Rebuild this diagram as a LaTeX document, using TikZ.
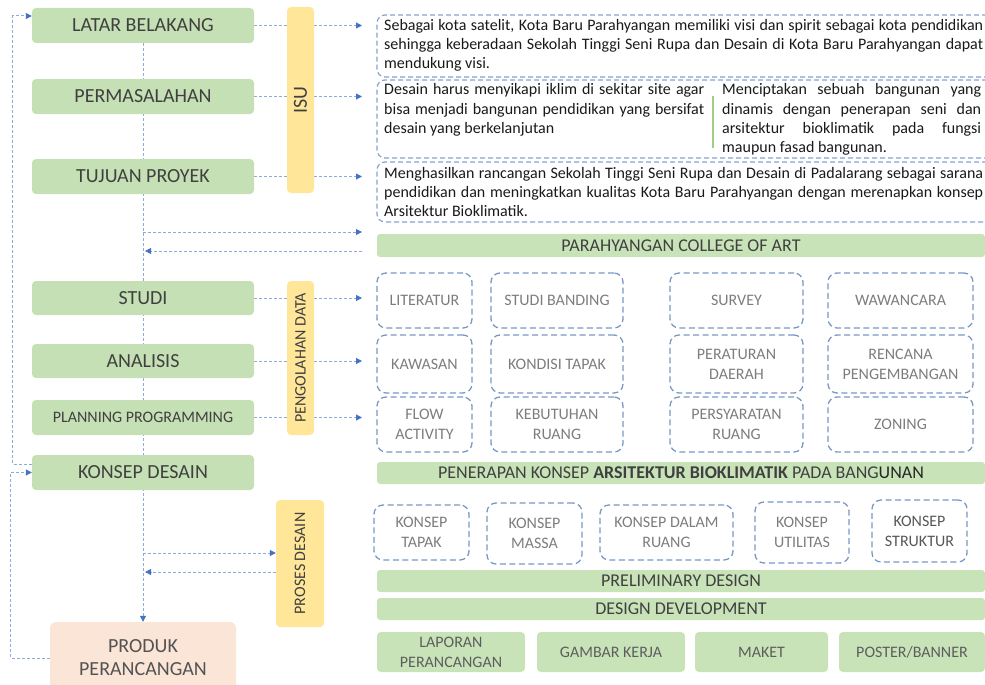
\documentclass[tikz,border=0pt]{standalone}
\usepackage{fontspec}
\setmainfont{Carlito}
\usepackage{graphicx}
\usetikzlibrary{arrows.meta}
\pgfdeclarelayer{bg}
\pgfsetlayers{bg,main}
\definecolor{boxgreen}{RGB}{197,224,180}
\definecolor{bargreen}{RGB}{201,227,185}
\definecolor{boxyellow}{RGB}{255,230,153}
\definecolor{peach}{RGB}{251,229,214}
\definecolor{txtdark}{RGB}{64,64,64}
\definecolor{txtgray}{RGB}{125,125,125}
\definecolor{bodytxt}{RGB}{25,25,25}
\definecolor{dashblue}{RGB}{120,152,196}
\definecolor{tdash}{RGB}{135,162,204}
\definecolor{flowline}{RGB}{143,170,220}
\definecolor{flowtip}{RGB}{68,114,196}
\definecolor{sepgreen}{RGB}{160,205,130}
\begin{document}
\begin{tikzpicture}[x=1pt,y=-1pt,
  gbox/.style={fill=boxgreen, rounded corners=4pt, text=txtdark, inner sep=0pt,
    font=\fontsize{20}{24}\selectfont, minimum width=222pt, minimum height=35pt},
  ybox/.style={fill=boxyellow, rounded corners=4pt, text=txtdark, inner sep=0pt,
    font=\fontsize{16}{19}\selectfont},
  dbox/.style={draw=dashblue, line width=1.3pt, dash pattern=on 6pt off 3.5pt,
    rounded corners=9pt, text=txtgray, inner sep=0pt, align=center,
    font=\fontsize{16}{20}\selectfont},
  bar/.style={fill=bargreen, rounded corners=3pt, text=txtdark, inner sep=0pt,
    font=\fontsize{18}{21}\selectfont},
  pbox/.style={fill=bargreen, rounded corners=4pt, text=txtdark!85, inner sep=0pt,
    align=center, font=\fontsize{16}{20}\selectfont, minimum height=40pt},
  tbox/.style={draw=tdash, line width=1.2pt, dash pattern=on 5pt off 3pt,
    rounded corners=8pt, inner sep=0pt},
  ttext/.style={anchor=base west, inner sep=0pt, text=bodytxt,
    font=\fontsize{16}{19}\selectfont},
  flow/.style={draw=flowline, line width=1pt, dash pattern=on 3pt off 2pt},
  tip/.style={-{Triangle[length=6pt,width=6pt,color=flowtip,fill=flowtip]}}
]
\useasboundingbox (0,0) rectangle (985,685);

% left column
\node[gbox] (latar) at (143,25.5) {LATAR BELAKANG};
\node[gbox] (perm) at (143,96.5) {PERMASALAHAN};
\node[gbox] (tujuan) at (143,176.5) {TUJUAN PROYEK};
\node[gbox, minimum height=34pt] (studi) at (143,298) {STUDI};
\node[gbox, minimum height=34pt] (analisis) at (143,361) {ANALISIS};
\node[gbox, font=\fontsize{16}{19}\selectfont] (planning) at (143,417.5) {PLANNING PROGRAMMING};
\node[gbox] (konsep) at (143,472.5) {KONSEP DESAIN};
\node[fill=peach, rounded corners=6pt, text=txtdark!90, inner sep=0pt, align=center,
  font=\fontsize{20}{23}\selectfont, minimum width=186pt, minimum height=72pt]
  (produk) at (143,658) {PRODUK\\PERANCANGAN};

% yellow labels
\node[ybox, font=\fontsize{20}{24}\selectfont, minimum width=27pt, minimum height=186pt] (isu) at (300.5,100) {\rotatebox{90}{ISU}};
\node[ybox, minimum width=27pt, minimum height=154pt] (olah) at (300.5,358) {\rotatebox{90}{PENGOLAHAN DATA}};
\node[ybox, minimum width=48pt, minimum height=127pt] (proses) at (300,563.5) {\rotatebox{90}{PROSES DESAIN}};

% issue text boxes
\node[tbox, minimum width=618pt, minimum height=62pt] (t1) at (686,46) {};
\node[tbox, minimum width=618pt, minimum height=78pt] (t2) at (686,119) {};
\node[tbox, minimum width=618pt, minimum height=60pt] (t3) at (686,192) {};

\node[ttext] (t1a) at (384,31) {\makebox[599pt][s]{Sebagai kota satelit, Kota Baru Parahyangan memiliki visi dan spirit sebagai kota pendidikan}};
\node[ttext] (t1b) at (384,49.5) {\makebox[599pt][s]{sehingga keberadaan Sekolah Tinggi Seni Rupa dan Desain di Kota Baru Parahyangan dapat}};
\node[ttext] (t1c) at (384,68) {mendukung visi.};

\node[ttext] (t2a) at (384,95) {\makebox[320pt][s]{Desain harus menyikapi iklim di sekitar site agar}};
\node[ttext] (t2b) at (384,114) {\makebox[320pt][s]{bisa menjadi bangunan pendidikan yang bersifat}};
\node[ttext] (t2c) at (384,133) {desain yang berkelanjutan};
\draw[sepgreen, line width=1.2pt] (713,96) -- (713,148);
\node[ttext] (t2d) at (722,95) {\makebox[259pt][s]{Menciptakan sebuah bangunan yang}};
\node[ttext] (t2e) at (722,114) {\makebox[259pt][s]{dinamis dengan penerapan seni dan}};
\node[ttext] (t2f) at (722,133) {\makebox[259pt][s]{arsitektur bioklimatik pada fungsi}};
\node[ttext] (t2g) at (722,152) {maupun fasad bangunan.};

\node[ttext] (t3a) at (384,178) {\makebox[599pt][s]{Menghasilkan rancangan Sekolah Tinggi Seni Rupa dan Desain di Padalarang sebagai sarana}};
\node[ttext] (t3b) at (384,197) {\makebox[599pt][s]{pendidikan dan meningkatkan kualitas Kota Baru Parahyangan dengan merenapkan konsep}};
\node[ttext] (t3c) at (384,216) {Arsitektur Bioklimatik.};

% bars
\node[bar, minimum width=608pt, minimum height=23pt] (pca) at (681,245.5) {PARAHYANGAN COLLEGE OF ART};
\node[bar, minimum width=608pt, minimum height=22pt] (penerapan) at (681,473) {PENERAPAN KONSEP \textbf{ARSITEKTUR BIOKLIMATIK} PADA BANG\textcolor{black!85}{UNAN}};
\node[bar, minimum width=608pt, minimum height=22pt] (prelim) at (681,581) {PRELIMINARY DESIGN};
\node[bar, minimum width=608pt, minimum height=22pt] (dd) at (681,609) {DESIGN DEVELOPMENT};

% data boxes
\node[dbox, minimum width=95pt, minimum height=55pt] (lit) at (424.5,300.5) {LITERATUR};
\node[dbox, minimum width=132pt, minimum height=55pt] (sb) at (557,300.5) {STUDI BANDING};
\node[dbox, minimum width=133pt, minimum height=55pt] (survey) at (736.5,300.5) {SURVEY};
\node[dbox, minimum width=145pt, minimum height=55pt] (waw) at (900.5,300.5) {WAWANCARA};
\node[dbox, minimum width=95pt, minimum height=58pt] (kaw) at (424.5,364) {KAWASAN};
\node[dbox, minimum width=132pt, minimum height=58pt] (kt) at (557,364) {KONDISI TAPAK};
\node[dbox, minimum width=133pt, minimum height=58pt] (perda) at (736.5,364) {PERATURAN\\DAERAH};
\node[dbox, minimum width=145pt, minimum height=58pt] (renc) at (900.5,364) {RENCANA\\PENGEMBANGAN};
\node[dbox, minimum width=95pt, minimum height=55pt] (flowact) at (424.5,424.5) {FLOW\\ACTIVITY};
\node[dbox, minimum width=132pt, minimum height=55pt] (keb) at (557,424.5) {KEBUTUHAN\\RUANG};
\node[dbox, minimum width=133pt, minimum height=55pt] (syarat) at (736.5,424.5) {PERSYARATAN\\RUANG};
\node[dbox, minimum width=145pt, minimum height=55pt] (zoning) at (900.5,424.5) {ZONING};

% concept boxes
\node[dbox, minimum width=95pt, minimum height=55pt] (ktapak) at (421.5,532.5) {KONSEP\\TAPAK};
\node[dbox, minimum width=95pt, minimum height=61pt] (kmassa) at (534.5,533.5) {KONSEP\\MASSA};
\node[dbox, minimum width=133pt, minimum height=55pt] (kdalam) at (666.5,532.5) {KONSEP DALAM\\RUANG};
\node[dbox, minimum width=94pt, minimum height=61pt] (kutil) at (802,532.5) {KONSEP\\UTILITAS};
\node[dbox, minimum width=95pt, minimum height=62pt, text=txtgray!70!black] (kstruk) at (919.5,531) {KONSEP\\STRUKTUR};

% products
\node[pbox, minimum width=148pt] (lap) at (451,652) {LAPORAN\\PERANCANGAN};
\node[pbox, minimum width=148pt] (gambar) at (611,652) {GAMBAR KERJA};
\node[pbox, minimum width=133pt] (maket) at (761.5,652) {MAKET};
\node[pbox, minimum width=146pt] (poster) at (912,652) {POSTER/BANNER};

% free ends of connectors
\coordinate (ea) at (362,25.5);
\coordinate (eb) at (362,96.5);
\coordinate (ec) at (362,176.5);
\coordinate (ed) at (362,298);
\coordinate (ee) at (362,361);
\coordinate (ef) at (362,417.5);
\coordinate (m1) at (143,232);
\coordinate (r1) at (362,232);
\coordinate (r2) at (362,251);
\coordinate (m2) at (145,251);
\coordinate (m3) at (143,553);
\coordinate (m4) at (145,572);

\begin{pgfonlayer}{bg}
\draw[flow,tip] (latar.south) -- (produk.north);
\draw[flow,tip] (latar.east) -- (ea);
\draw[flow,tip] (perm.east) -- (eb);
\draw[flow,tip] (tujuan.east) -- (ec);
\draw[flow,tip] (studi.east) -- (ed);
\draw[flow,tip] (analisis.east) -- (ee);
\draw[flow,tip] (planning.east) -- (ef);
\draw[flow,tip] (m1) -- (r1);
\draw[flow,tip] (r2) -- (m2);
\draw[flow,tip] (m3) -- (m3 -| proses.west);
\draw[flow,tip] (m4 -| proses.west) -- (m4);
\draw[flow,tip] ([yshift=8.5pt]konsep.west) -- ++(-19,0) |- ([yshift=9.5pt]latar.west);
\draw[flow,tip] (produk.west) -- ++(-39,0) |- (konsep.west);
\end{pgfonlayer}
\end{tikzpicture}
\end{document}
